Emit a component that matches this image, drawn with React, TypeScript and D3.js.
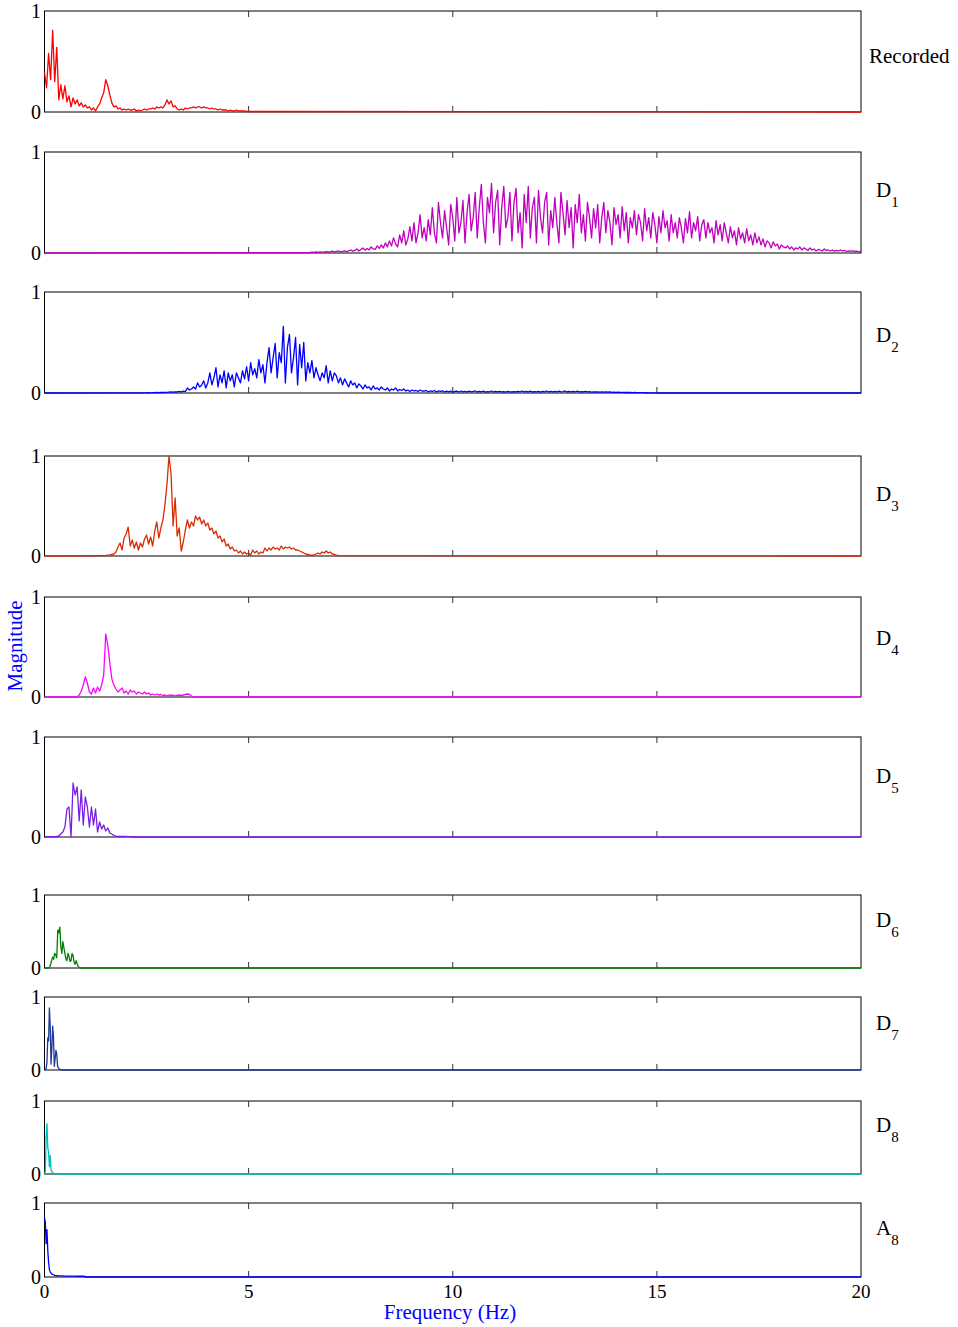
import React from "react";
import * as d3 from "d3";

const freqTicks = [0, 5, 10, 15, 20];
const magTicks = [0, 1];

const labelMain = ["Recorded", "D", "D", "D", "D", "D", "D", "D", "D", "A"];
const labelSub = ["", "1", "2", "3", "4", "5", "6", "7", "8", "8"];
const lineColors = [
  "#ff0000", "#bf00bf", "#0000ff", "#d92b00", "#ff00ff",
  "#7a1ee6", "#008000", "#1f3a99", "#00bfbf", "#0000ff",
];

// each spectrum is sampled on a regular grid: first frequency and spacing in Hz
const seriesStart = [0, 6.5, 2.5, 1.5, 0.8, 0.3, 0.1, 0, 0, 0];
const seriesStep = [0.05, 0.05, 0.05, 0.05, 0.05, 0.05, 0.025, 0.02, 0.02, 0.02];

const recordedMag = [
  0.39, 0.24, 0.58, 0.32, 0.81, 0.30, 0.64, 0.12, 0.27, 0.13,
  0.26, 0.10, 0.16, 0.05, 0.14, 0.08, 0.12, 0.06, 0.09, 0.05,
  0.07, 0.04, 0.05, 0.02, 0.04, 0.01, 0.05, 0.08, 0.14, 0.19,
  0.32, 0.26, 0.17, 0.09, 0.05, 0.06, 0.03, 0.04, 0.02, 0.03,
  0.02, 0.03, 0.02, 0.02, 0.03, 0.01, 0.02, 0.01, 0.02, 0.03,
  0.02, 0.03, 0.03, 0.04, 0.03, 0.05, 0.04, 0.05, 0.04, 0.07,
  0.12, 0.08, 0.11, 0.05, 0.06, 0.03, 0.02, 0.03, 0.02, 0.04,
  0.03, 0.04, 0.04, 0.05, 0.04, 0.05, 0.05, 0.04, 0.05, 0.04,
  0.04, 0.03, 0.04, 0.03, 0.03, 0.02, 0.03, 0.02, 0.02, 0.02,
  0.01, 0.02, 0.01, 0.01, 0.02, 0.01, 0.01, 0.01, 0.01, 0.005,
  0.005,
];

// one row per Hz, starting at 6.5 Hz
const d1Mag = [
  0.005, 0.008, 0.006, 0.01, 0.007, 0.012, 0.009, 0.008, 0.014, 0.01, 0.012, 0.018, 0.01, 0.015, 0.02, 0.012, 0.016, 0.022, 0.014, 0.02,
  0.03, 0.018, 0.025, 0.04, 0.02, 0.035, 0.05, 0.028, 0.045, 0.03, 0.06, 0.04, 0.035, 0.07, 0.045, 0.08, 0.05, 0.1, 0.06, 0.12,
  0.07, 0.15, 0.09, 0.06, 0.18, 0.1, 0.22, 0.08, 0.14, 0.26, 0.12, 0.3, 0.1, 0.2, 0.38, 0.15, 0.25, 0.12, 0.33, 0.18,
  0.45, 0.2, 0.1, 0.5, 0.3, 0.15, 0.42, 0.25, 0.08, 0.48, 0.35, 0.12, 0.55, 0.2, 0.3, 0.52, 0.1, 0.4, 0.58, 0.22,
  0.35, 0.6, 0.15, 0.45, 0.68, 0.3, 0.1, 0.55, 0.4, 0.69, 0.2, 0.5, 0.62, 0.08, 0.45, 0.66, 0.25, 0.35, 0.6, 0.12,
  0.5, 0.64, 0.2, 0.4, 0.05, 0.58, 0.3, 0.66, 0.15, 0.45, 0.55, 0.1, 0.62, 0.35, 0.2, 0.5, 0.6, 0.08, 0.42, 0.25,
  0.55, 0.3, 0.1, 0.6, 0.4, 0.18, 0.52, 0.25, 0.45, 0.05, 0.48, 0.3, 0.58, 0.2, 0.38, 0.12, 0.5, 0.35, 0.15, 0.44,
  0.25, 0.48, 0.1, 0.35, 0.5, 0.2, 0.42, 0.3, 0.08, 0.45, 0.28, 0.38, 0.15, 0.46, 0.22, 0.4, 0.1, 0.35, 0.25, 0.42,
  0.18, 0.38, 0.3, 0.12, 0.44, 0.22, 0.35, 0.15, 0.4, 0.28, 0.1, 0.36, 0.2, 0.42, 0.25, 0.32, 0.12, 0.38, 0.2, 0.3,
  0.15, 0.35, 0.25, 0.1, 0.34, 0.2, 0.41, 0.15, 0.3, 0.22, 0.36, 0.12, 0.28, 0.33, 0.15, 0.3, 0.2, 0.25, 0.1, 0.32,
  0.18, 0.28, 0.12, 0.3, 0.2, 0.1, 0.26, 0.15, 0.22, 0.08, 0.25, 0.14, 0.2, 0.1, 0.24, 0.12, 0.18, 0.08, 0.2, 0.1,
  0.16, 0.08, 0.14, 0.06, 0.12, 0.1, 0.05, 0.11, 0.07, 0.09, 0.04, 0.08, 0.06, 0.05, 0.07, 0.04, 0.06, 0.03, 0.05, 0.04,
  0.06, 0.03, 0.05, 0.04, 0.025, 0.05, 0.03, 0.04, 0.02, 0.035, 0.03, 0.02, 0.04, 0.025, 0.03, 0.02, 0.03, 0.018, 0.025, 0.02,
  0.03, 0.02, 0.025, 0.015, 0.022, 0.018, 0.02, 0.015, 0.018, 0.012, 0.015,
];

// one row per Hz, starting at 2.5 Hz
const d2Mag = [
  0.002, 0.003, 0.002, 0.004, 0.003, 0.005, 0.004, 0.006, 0.005, 0.007, 0.006, 0.008, 0.01, 0.008, 0.012, 0.01, 0.015, 0.012, 0.018, 0.014,
  0.05, 0.03, 0.04, 0.06, 0.04, 0.1, 0.06, 0.08, 0.12, 0.05, 0.1, 0.2, 0.08, 0.15, 0.25, 0.06, 0.18, 0.1, 0.22, 0.05,
  0.2, 0.12, 0.18, 0.06, 0.2, 0.15, 0.1, 0.22, 0.14, 0.26, 0.12, 0.3, 0.18, 0.24, 0.15, 0.33, 0.2, 0.28, 0.1, 0.3,
  0.45, 0.2, 0.35, 0.49, 0.15, 0.4, 0.3, 0.66, 0.1, 0.45, 0.58, 0.2, 0.35, 0.55, 0.08, 0.48, 0.25, 0.5, 0.12, 0.3,
  0.2, 0.32, 0.15, 0.25, 0.18, 0.12, 0.2, 0.15, 0.27, 0.1, 0.22, 0.12, 0.2, 0.17, 0.1, 0.15, 0.08, 0.14, 0.1, 0.06,
  0.12, 0.08, 0.1, 0.05, 0.09, 0.07, 0.04, 0.08, 0.05, 0.06, 0.03, 0.07, 0.04, 0.05, 0.03, 0.06, 0.04, 0.03, 0.05, 0.02,
  0.04, 0.03, 0.05, 0.02, 0.035, 0.025, 0.04, 0.02, 0.03, 0.015, 0.03, 0.02, 0.025, 0.015, 0.03, 0.02, 0.018, 0.025, 0.012, 0.02,
  0.015, 0.025, 0.01, 0.02, 0.015, 0.022, 0.01, 0.018, 0.012, 0.02, 0.008, 0.015, 0.018, 0.01, 0.02, 0.012, 0.016, 0.01, 0.018, 0.012,
  0.015, 0.02, 0.01, 0.016, 0.012, 0.018, 0.008, 0.014, 0.012, 0.02, 0.01, 0.015, 0.012, 0.017, 0.01, 0.014, 0.008, 0.015, 0.012, 0.01,
  0.014, 0.01, 0.016, 0.012, 0.02, 0.01, 0.015, 0.012, 0.018, 0.01, 0.014, 0.012, 0.016, 0.008, 0.015, 0.012, 0.02, 0.01, 0.016, 0.012,
  0.015, 0.01, 0.018, 0.012, 0.014, 0.02, 0.01, 0.016, 0.012, 0.015, 0.01, 0.018, 0.012, 0.014, 0.01, 0.016, 0.01, 0.013, 0.009, 0.012,
  0.01, 0.012, 0.008, 0.011, 0.009, 0.012, 0.008, 0.01, 0.007, 0.009, 0.006, 0.008, 0.006, 0.007, 0.005, 0.006, 0.005, 0.006, 0.004, 0.005,
  0.004, 0.003, 0.004, 0.003, 0.002, 0.003, 0.002, 0.002, 0.001, 0.001, 0,
];

const d3Mag = [
  0.005, 0.008, 0.01, 0.015, 0.02, 0.04, 0.09, 0.13, 0.06, 0.18,
  0.22, 0.29, 0.1, 0.16, 0.08, 0.14, 0.06, 0.13, 0.09, 0.17,
  0.21, 0.12, 0.19, 0.1, 0.25, 0.34, 0.18, 0.28, 0.36, 0.51,
  0.72, 1.0, 0.82, 0.3, 0.58, 0.2, 0.28, 0.05, 0.14, 0.26,
  0.36, 0.28, 0.34, 0.3, 0.4, 0.36, 0.39, 0.32, 0.36, 0.3,
  0.33, 0.26, 0.28, 0.22, 0.25, 0.18, 0.2, 0.14, 0.17, 0.1,
  0.12, 0.07, 0.09, 0.05, 0.06, 0.03, 0.05, 0.02, 0.04, 0.02,
  0.03, 0.01, 0.06, 0.03, 0.05, 0.02, 0.04, 0.03, 0.08, 0.05,
  0.08, 0.06, 0.09, 0.07, 0.08, 0.06, 0.1, 0.07, 0.09, 0.08,
  0.09, 0.07, 0.08, 0.06, 0.06, 0.05, 0.04, 0.03, 0.02, 0.015,
  0.01, 0.005, 0.01, 0.02, 0.03, 0.02, 0.04, 0.03, 0.05, 0.03,
  0.04, 0.02, 0.015, 0.008, 0.005, 0.003,
];

const d4Mag = [
  0, 0.02, 0.06, 0.12, 0.2, 0.14, 0.05, 0.03, 0.09, 0.04,
  0.1, 0.06, 0.12, 0.22, 0.63, 0.52, 0.34, 0.18, 0.12, 0.08,
  0.05, 0.07, 0.09, 0.04, 0.06, 0.03, 0.07, 0.05, 0.06, 0.03,
  0.05, 0.04, 0.03, 0.05, 0.03, 0.04, 0.02, 0.03, 0.02, 0.03,
  0.02, 0.025, 0.015, 0.02, 0.01, 0.02, 0.015, 0.02, 0.01, 0.015,
  0.02, 0.015, 0.02, 0.025, 0.03, 0.025, 0.01, 0,
];

const d5Mag = [
  0.005, 0.01, 0.03, 0.05, 0.1, 0.28, 0.3, 0, 0.54, 0.42,
  0.5, 0.16, 0.47, 0.12, 0.4, 0.3, 0.1, 0.3, 0.12, 0.28,
  0.05, 0.15, 0.08, 0.12, 0.06, 0.09, 0.04, 0.03, 0.015, 0.008,
  0.005, 0.006, 0.005, 0.006, 0.005, 0.004, 0.003, 0,
];

const d6Mag = [
  0, 0.01, 0.05, 0.1, 0.15, 0.12, 0.2, 0.18, 0.14, 0.52,
  0.48, 0.56, 0.3, 0.2, 0.36, 0.28, 0.2, 0.12, 0.1, 0.2,
  0.16, 0.09, 0.1, 0.2, 0.17, 0.08, 0.05, 0.1, 0.06, 0.02,
  0.01, 0.005, 0,
];

const d7Mag = [
  0, 0.005, 0.02, 0.1, 0.44, 0.4, 0.85, 0.6, 0.08, 0.3,
  0.6, 0.45, 0.05, 0.15, 0.27, 0.22, 0.05, 0.03, 0.015, 0.008,
  0.004, 0.002, 0,
];

const d8Mag = [
  0, 0.03, 0.5, 0.69, 0.36, 0.3, 0.1, 0.25, 0.06, 0.03,
  0.02, 0.01, 0.005, 0,
];

const a8Mag = [
  0.8, 0.74, 0.45, 0.64, 0.36, 0.2, 0.1, 0.07, 0.05, 0.04,
  0.035, 0.03, 0.025, 0.022, 0.02, 0.018, 0.017, 0.016, 0.016, 0.015,
  0.015, 0.014, 0.014, 0.014, 0.013, 0.013, 0.013, 0.013, 0.012, 0.012,
  0.012, 0.012, 0.012, 0.011, 0.011, 0.011, 0.011, 0.011, 0.011, 0.011,
  0.01, 0.01, 0.01, 0.01, 0.01, 0.01, 0.01, 0.01, 0.01, 0.01, 0,
];

const seriesMag = [recordedMag, d1Mag, d2Mag, d3Mag, d4Mag, d5Mag, d6Mag, d7Mag, d8Mag, a8Mag];

// layout
const width = 958;
const height = 1327;
const plotLeft = 44.5;
const plotRight = 861;
const panelTop = [11, 152, 292, 456, 597, 737, 895, 997, 1101, 1203];
const panelHeight = [101, 101, 101, 100, 100, 100, 73, 73, 73, 74];
const labelBaseline = [52, 45, 50, 45, 48, 46, 32, 33, 31, 32];
const tickLen = 6;
const font = "'Liberation Serif', 'Times New Roman', serif";

const x = d3.scaleLinear().domain([0, 20]).range([plotLeft, plotRight]);

function Panel({ idx }: { idx: number }) {
  const top = panelTop[idx];
  const h = panelHeight[idx];
  const bottom = top + h;
  const y = d3.scaleLinear().domain([0, 1]).range([bottom, top]);

  const start = seriesStart[idx];
  const step = seriesStep[idx];
  const vals = seriesMag[idx];
  const pts: [number, number][] = vals.map((v, i) => [start + i * step, v]);
  // flat baseline outside the sampled band
  if (start > 0) pts.unshift([0, 0]);
  if (pts[pts.length - 1][0] < 20) pts.push([20, 0]);

  const line = d3
    .line<[number, number]>()
    .x((d) => x(d[0]))
    .y((d) => y(d[1]));

  const last = idx === panelTop.length - 1;

  return (
    <g>
      {/* box */}
      <rect x={plotLeft} y={top} width={plotRight - plotLeft} height={h} fill="none" stroke="#000" strokeWidth={1} />

      {/* inner ticks */}
      {freqTicks.slice(1, -1).map((t) => (
        <g key={t} stroke="#333" strokeWidth={1}>
          <line x1={x(t)} x2={x(t)} y1={top} y2={top + tickLen} />
          <line x1={x(t)} x2={x(t)} y1={bottom} y2={bottom - tickLen} />
        </g>
      ))}

      {/* spectrum */}
      <path d={line(pts) || ""} fill="none" stroke={lineColors[idx]} strokeWidth={1.3} strokeLinejoin="round" />

      {/* magnitude tick labels */}
      {magTicks.map((t) => (
        <text key={t} x={41} y={y(t)} dy="0.35em" textAnchor="end" fontSize={20} fontFamily={font} fill="#000">
          {t}
        </text>
      ))}

      {/* frequency tick labels, bottom panel only */}
      {last &&
        freqTicks.map((t) => (
          <text key={t} x={x(t)} y={bottom + 21} textAnchor="middle" fontSize={19} fontFamily={font} fill="#000">
            {t}
          </text>
        ))}

      {/* series label */}
      <text x={labelSub[idx] ? 876 : 869} y={top + labelBaseline[idx]} fontSize={21} fontFamily={font} fill="#000">
        {labelMain[idx]}
        {labelSub[idx] && (
          <tspan fontSize={15} dy={10}>
            {labelSub[idx]}
          </tspan>
        )}
      </text>
    </g>
  );
}

export default function App() {
  return (
    <svg
      width={width}
      height={height}
      style={{ position: "absolute", left: 0, top: 0, background: "#fff" }}
    >
      {panelTop.map((_, i) => (
        <Panel key={i} idx={i} />
      ))}

      <text x={450} y={1319} textAnchor="middle" fontSize={21} fontFamily={font} fill="#0000ff">
        Frequency (Hz)
      </text>
      <text
        transform="translate(22,646) rotate(-90)"
        textAnchor="middle"
        fontSize={21}
        fontFamily={font}
        fill="#0000ff"
      >
        Magnitude
      </text>
    </svg>
  );
}
